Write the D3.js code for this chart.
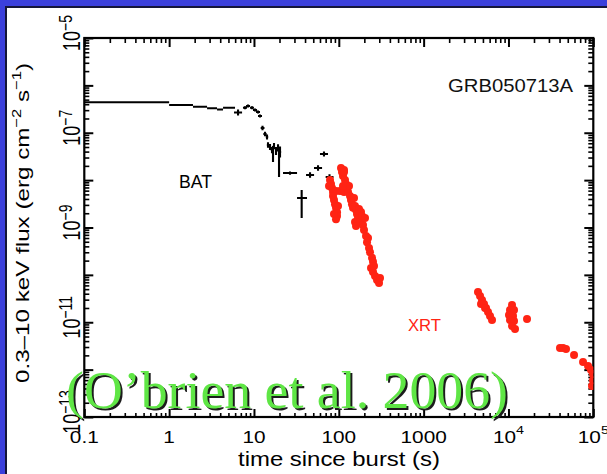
<!DOCTYPE html>
<html>
<head>
<meta charset="utf-8">
<script src="https://cdn.jsdelivr.net/npm/d3@7"></script>
<style>
  html, body { margin: 0; padding: 0; background: #3b40dc; overflow: hidden; }
  svg { display: block; }
</style>
</head>
<body>
<svg id="chart" width="607" height="474"></svg>
<script>
// ---- Swift light curve of GRB050713A: BAT (extrapolated) + XRT ----

// Axis tick labels (decades)
const xTickDecades = [-1, 0, 1, 2, 3, 4, 5];
const xTickLabels = ["0.1", "1", "10", "100", "1000", "10^4", "10^5"];
const yTickDecades = [-13, -11, -9, -7, -5];

// BAT: early binned light curve (bin edges in s, flux in erg cm^-2 s^-1)
const batStepEdges = [0.1, 1.0, 1.91, 2.80, 3.67, 4.32, 5.98];
const batStepFlux  = [4.40e-7, 3.85e-7, 3.55e-7, 3.28e-7, 3.10e-7, 3.38e-7];

// BAT: later points with error bars
const batTime   = [6.49, 7.84, 8.51, 9.48, 10.29, 11.16, 11.78, 12.61, 13.50, 14.25, 14.64, 15.46, 16.32, 16.77, 17.23, 18.19, 19.21, 19.74, 20.28, 26.6, 36.5, 45.8, 56.9, 66.9, 77.7];
const batTimeLo = [5.82, 7.42, 8.06, 8.98, 9.74, 10.57, 11.16, 12.0, 12.9, 13.8, 14.2, 15.0, 15.8, 16.4, 16.7, 17.7, 18.7, 19.3, 19.7, 22.0, 32.2, 41.1, 51.0, 60.0, 70.0];
const batTimeHi = [7.24, 8.28, 8.99, 10.0, 10.87, 11.78, 12.44, 13.3, 14.1, 14.7, 15.1, 15.9, 16.8, 17.1, 17.7, 18.7, 19.7, 20.2, 20.9, 32.2, 42.2, 51.1, 63.5, 74.6, 86.6];
const batFlux   = [2.67e-7, 3.38e-7, 3.67e-7, 3.38e-7, 3.02e-7, 2.74e-7, 2.26e-7, 1.26e-7, 9.41e-8, 8.13e-8, 5.51e-8, 5.00e-8, 4.32e-8, 3.39e-8, 5.25e-8, 4.12e-8, 4.77e-8, 2.66e-8, 3.93e-8, 1.41e-8, 4.20e-9, 1.28e-8, 1.80e-8, 3.56e-8, 1.16e-8];
const batFluxLo = [2.31e-7, 3.14e-7, 3.41e-7, 3.14e-7, 2.81e-7, 2.55e-7, 2.10e-7, 1.13e-7, 8.4e-8, 7.2e-8, 4.8e-8, 4.3e-8, 3.7e-8, 2.41e-8, 4.5e-8, 3.4e-8, 4.0e-8, 1.16e-8, 3.0e-8, 1.30e-8, 1.59e-9, 1.12e-8, 1.58e-8, 3.15e-8, 1.0e-8];
const batFluxHi = [3.09e-7, 3.64e-7, 3.95e-7, 3.64e-7, 3.25e-7, 2.95e-7, 2.43e-7, 1.40e-7, 1.05e-7, 9.2e-8, 6.3e-8, 5.8e-8, 5.0e-8, 5.25e-8, 6.1e-8, 5.0e-8, 5.7e-8, 4.32e-8, 5.1e-8, 1.53e-8, 6.19e-9, 1.46e-8, 2.05e-8, 4.0e-8, 1.33e-8];

// XRT: flaring early phase and late decay
const xrtTime = [
  78.8, 80.9, 83.2, 85.5, 92.7, 103.3, 115.2, 85.5, 87.8, 90.2, 92.7, 95.3, 95.3, 92.7, 76.7, 97.9, 87.8,
  106.2, 109.1, 112.1, 115.2, 115.2, 118.4, 121.6, 125.0, 128.4, 131.9, 135.6, 139.3, 143.1, 147.1, 112.1, 151.1, 155.3,
  159.6, 173.1, 182.7, 163.9, 168.5, 155.3, 159.6, 177.8, 192.9, 198.2, 209.4, 215.1, 227.1, 187.7, 203.7, 221,
  233.3, 246.4, 253.1, 239.8, 253.1, 267.3, 282.2, 298.0, 260, 306,
  4375, 4622, 4879, 4748, 5151, 5292, 5438, 5741, 6062, 6400,
  11010, 10430, 11630, 10150, 11320, 10430, 11630, 11010, 11950, 16550,
  40500, 44000, 47700, 59300, 75700, 86700, 94000, 99300, 99300, 96600
];
const xrtFlux = [
  1.01e-8, 8.3e-9, 6.8e-9, 5.6e-9, 5.9e-9, 5.9e-9, 5.6e-9, 4.6e-9, 3.8e-9, 3.1e-9, 2.6e-9, 2.1e-9, 1.75e-9, 1.5e-9, 7.5e-9, 2.84e-9, 1.93e-9,
  1.8e-8, 1.48e-8, 1.22e-8, 1.64e-8, 1.48e-8, 1.01e-8, 8.3e-9, 6.8e-9, 5.6e-9, 7.5e-9, 4.6e-9, 3.8e-9, 3.1e-9, 2.6e-9, 7.5e-9, 4.2e-9, 2.84e-9,
  2.34e-9, 2.46e-9, 2.12e-9, 1.93e-9, 1.59e-9, 1.31e-9, 1.08e-9, 1.31e-9, 1.13e-9, 8.9e-10, 6.6e-10, 4.9e-10, 3.7e-10, 1.75e-9, 1.59e-9, 6.0e-10,
  3.0e-10, 2.3e-10, 1.9e-10, 1.4e-10, 1.15e-10, 9.5e-11, 7.8e-11, 6.7e-11, 1.54e-10, 8.6e-11,
  4.35e-11, 3.58e-11, 2.95e-11, 2.43e-11, 2.43e-11, 2.0e-11, 2.0e-11, 1.65e-11, 1.36e-11, 1.12e-11,
  2.31e-11, 1.81e-11, 1.81e-11, 1.42e-11, 1.36e-11, 1.12e-11, 1.06e-11, 8.33e-12, 7.2e-12, 1.17e-11,
  2.86e-12, 2.86e-12, 2.72e-12, 2.03e-12, 1.45e-12, 1.19e-12, 9.8e-13, 8.1e-13, 6.0e-13, 4.5e-13
];

const W = 607, H = 474;
const svg = d3.select("#chart");

// slide background and image frame
svg.append("rect").attr("width", W).attr("height", H).attr("fill", "#3b40dc");
svg.append("rect").attr("x", 5).attr("y", 6).attr("width", W).attr("height", H).attr("fill", "#15163a");
svg.append("rect").attr("x", 7).attr("y", 8).attr("width", W).attr("height", H).attr("fill", "#ffffff");

const x = d3.scaleLog().domain([0.1, 1e5]).range([84.3, 593.3]);
const y = d3.scaleLog().domain([1e-13, 1e-5]).range([417, 38]);
const [x0, x1] = x.range();
const [y0, y1] = y.range();

const sans = "'Liberation Sans', Arial, Helvetica, sans-serif";

// tick values
const xMajor = xTickDecades.map(k => Math.pow(10, k));
const xMinor = [];
for (let k = -1; k < 5; k++) for (let m = 2; m <= 9; m++) xMinor.push(m * Math.pow(10, k));
const yMajor = d3.range(-13, -4).map(k => Math.pow(10, k));
const yMinor = [];
for (let k = -13; k < -5; k++) for (let m = 2; m <= 9; m++) yMinor.push(m * Math.pow(10, k));

const axes = svg.append("g");
function drawTicks(gen, tr, values, size, width) {
  const a = axes.append("g").attr("transform", tr)
    .call(gen.tickValues(values).tickSize(size).tickFormat(""));
  a.select(".domain").remove();
  a.selectAll(".tick line").attr("stroke", "#000").attr("stroke-width", width);
}
drawTicks(d3.axisBottom(x), `translate(0,${y0})`, xMajor, -8, 2);
drawTicks(d3.axisBottom(x), `translate(0,${y0})`, xMinor, -4, 1.6);
drawTicks(d3.axisTop(x), `translate(0,${y1})`, xMajor, -9, 2);
drawTicks(d3.axisTop(x), `translate(0,${y1})`, xMinor, -5, 1.6);
drawTicks(d3.axisLeft(y), `translate(${x0},0)`, yMajor, -9, 2);
drawTicks(d3.axisLeft(y), `translate(${x0},0)`, yMinor, -5, 1.6);
drawTicks(d3.axisRight(y), `translate(${x1},0)`, yMajor, -9, 2);
drawTicks(d3.axisRight(y), `translate(${x1},0)`, yMinor, -5, 1.6);

axes.append("rect")
  .attr("x", x0).attr("y", y1).attr("width", x1 - x0).attr("height", y0 - y1)
  .attr("fill", "none").attr("stroke", "#000").attr("stroke-width", 2.2);

// x tick labels
xTickDecades.forEach((k, i) => {
  const lab = xTickLabels[i];
  const t = axes.append("text")
    .attr("transform", `translate(${x(Math.pow(10, k))},443) scale(1.3,1)`)
    .attr("text-anchor", "middle")
    .attr("font-family", sans).attr("font-size", 16).attr("fill", "#000");
  if (lab.includes("^")) {
    const [base, exp] = lab.split("^");
    t.append("tspan").text(base);
    t.append("tspan").attr("font-size", 11).attr("dy", -9).text(exp);
  } else {
    t.text(lab);
  }
});

// y tick labels (rotated)
yTickDecades.forEach(k => {
  const t = axes.append("text")
    .attr("transform", `translate(80,${y(Math.pow(10, k)) - 5}) scale(1.3,1) rotate(-90)`)
    .attr("text-anchor", "middle")
    .attr("font-family", sans).attr("font-size", 18).attr("fill", "#000");
  t.append("tspan").text("10");
  t.append("tspan").attr("font-size", 14).attr("dy", -6).text("\u2212" + Math.abs(k));
});

// axis titles
axes.append("text")
  .attr("x", 339).attr("y", 466).attr("text-anchor", "middle")
  .attr("font-family", sans).attr("font-size", 20)
  .attr("textLength", 202).attr("lengthAdjust", "spacingAndGlyphs")
  .text("time since burst (s)");

const yt = axes.append("text")
  .attr("transform", "translate(29,223) rotate(-90)")
  .attr("text-anchor", "middle")
  .attr("font-family", sans).attr("font-size", 19)
  .attr("textLength", 320).attr("lengthAdjust", "spacingAndGlyphs");
yt.append("tspan").text("0.3\u201310 keV flux (erg cm");
yt.append("tspan").attr("font-size", 13).attr("dy", -8).text("\u22122");
yt.append("tspan").attr("dy", 8).text(" s");
yt.append("tspan").attr("font-size", 13).attr("dy", -8).text("\u22121");
yt.append("tspan").attr("dy", 8).text(")");

// data
const plot = svg.append("g");
svg.append("clipPath").attr("id", "plotClip")
  .append("rect").attr("x", x0).attr("y", y1).attr("width", x1 - x0).attr("height", y0 - y1);
plot.attr("clip-path", "url(#plotClip)");

// BAT binned steps
batStepFlux.forEach((f, i) => {
  plot.append("line")
    .attr("x1", x(batStepEdges[i])).attr("x2", x(batStepEdges[i + 1]))
    .attr("y1", y(f)).attr("y2", y(f))
    .attr("stroke", "#000").attr("stroke-width", 2);
});

// BAT points with error bars
batTime.forEach((t, i) => {
  plot.append("line")
    .attr("x1", x(batTimeLo[i])).attr("x2", x(batTimeHi[i]))
    .attr("y1", y(batFlux[i])).attr("y2", y(batFlux[i]))
    .attr("stroke", "#000").attr("stroke-width", 2.1);
  plot.append("line")
    .attr("x1", x(t)).attr("x2", x(t))
    .attr("y1", y(batFluxLo[i])).attr("y2", y(batFluxHi[i]))
    .attr("stroke", "#000").attr("stroke-width", 2.1);
});

// XRT points
plot.selectAll("circle.xrt")
  .data(xrtTime.map((t, i) => [t, xrtFlux[i]]))
  .join("circle").attr("class", "xrt")
  .attr("cx", d => x(d[0])).attr("cy", d => y(d[1]))
  .attr("r", 4).attr("fill", "#ff2414");

// in-plot labels
svg.append("text").attr("x", 448).attr("y", 92)
  .attr("font-family", sans).attr("font-size", 19).attr("fill", "#111")
  .attr("textLength", 125).attr("lengthAdjust", "spacingAndGlyphs")
  .text("GRB050713A");
svg.append("text").attr("x", 179).attr("y", 188)
  .attr("font-family", sans).attr("font-size", 19).attr("fill", "#000")
  .attr("textLength", 33).attr("lengthAdjust", "spacingAndGlyphs")
  .text("BAT");
svg.append("text").attr("x", 408).attr("y", 331)
  .attr("font-family", sans).attr("font-size", 17).attr("fill", "#ff2414")
  .attr("textLength", 33).attr("lengthAdjust", "spacingAndGlyphs")
  .text("XRT");

// citation with drop shadow
const cite = "(O\u2019brien et al. 2006)";
svg.append("text").attr("x", 68).attr("y", 410)
  .attr("font-family", "'Liberation Serif', 'Times New Roman', serif").attr("font-size", 53)
  .attr("fill", "#1c1c1c")
  .attr("textLength", 442).attr("lengthAdjust", "spacingAndGlyphs")
  .text(cite);
svg.append("text").attr("x", 66).attr("y", 408)
  .attr("font-family", "'Liberation Serif', 'Times New Roman', serif").attr("font-size", 53)
  .attr("fill", "#5fe645")
  .attr("textLength", 442).attr("lengthAdjust", "spacingAndGlyphs")
  .text(cite);
</script>
</body>
</html>
